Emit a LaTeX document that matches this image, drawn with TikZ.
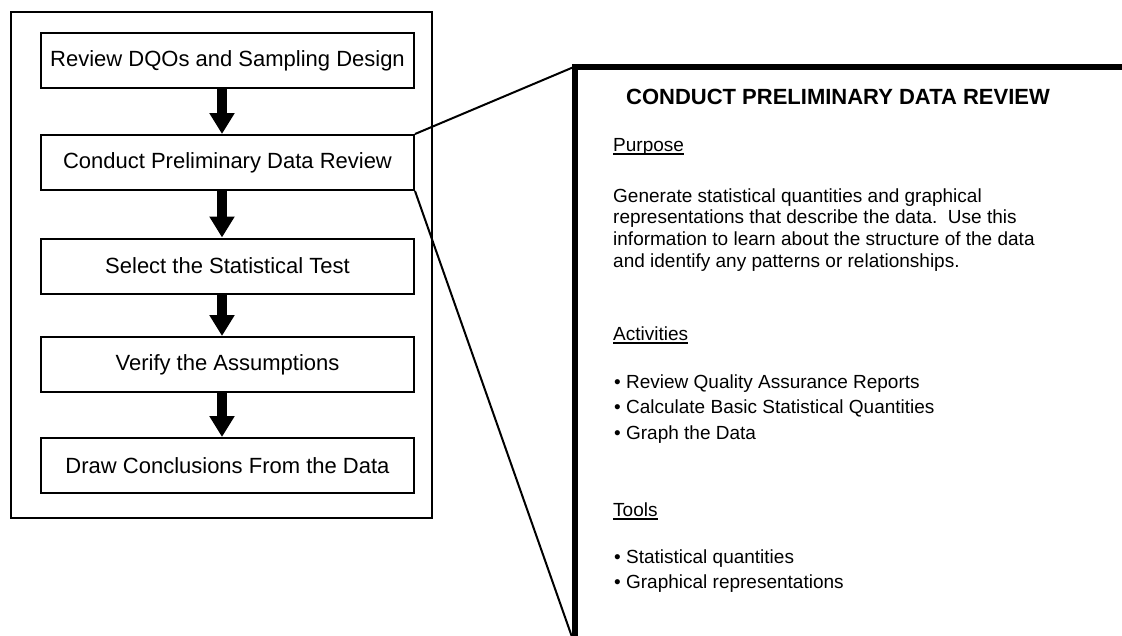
\documentclass[tikz,border=0pt]{standalone}
\usepackage{fontspec}
\setmainfont{Liberation Sans}
\usetikzlibrary{arrows.meta}

\tikzset{
  stepbox/.style={draw, line width=2pt, minimum width=373pt, minimum height=55pt, inner sep=0pt, font=\fontsize{22}{26}\selectfont},
  flowarrow/.style={line width=10.5pt, -{Triangle[width=24pt,length=21pt]}},
  paneltext/.style={anchor=base west, inner sep=0pt, font=\fontsize{19}{22}\selectfont},
  headrule/.style={line width=1.4pt},
}

\begin{document}
\begin{tikzpicture}[x=1pt,y=-1pt]
  \useasboundingbox (0,0) rectangle (1122,635);

  % steps of the process
  \draw[line width=2.6pt] (11,12) rectangle (432,518);
  \node[stepbox] (dqo)    at (227.5,60.5)  {Review DQOs and Sampling Design};
  \node[stepbox] (prelim) at (227.5,162.5) {Conduct Preliminary Data Review};
  \node[stepbox] (select) at (227.5,266)   {Select the Statistical Test};
  \node[stepbox] (verify) at (227.5,364.5) {Verify the Assumptions};
  \node[stepbox] (concl)  at (227.5,465.5) {Draw Conclusions From the Data};

  \draw[flowarrow] ([xshift=-5.5pt]dqo.south)    -- ([xshift=-5.5pt]prelim.north);
  \draw[flowarrow] ([xshift=-5.5pt]prelim.south) -- ([xshift=-5.5pt]select.north);
  \draw[flowarrow] ([xshift=-5.5pt]select.south) -- ([xshift=-5.5pt]verify.north);
  \draw[flowarrow] ([xshift=-5.5pt]verify.south) -- ([xshift=-5.5pt]concl.north);

  % zoomed panel
  \coordinate (corner) at (575,66.5);
  \coordinate (foot)   at (572,637);
  \draw[line width=6pt] (1126,66.5) -- (corner) -- (575,640);
  \draw[line width=2pt] (prelim.north east) -- (corner);
  \draw[line width=2pt] (prelim.south east) -- (foot);

  \node[anchor=base, inner sep=0pt, font=\fontsize{22}{26}\selectfont\bfseries] (title) at (838,104) {CONDUCT PRELIMINARY DATA REVIEW};

  \node[paneltext] (purpose) at (613,151) {Purpose};
  \draw[headrule] ([yshift=-3pt]purpose.base west) -- ([yshift=-3pt]purpose.base east);
  \node[paneltext] (gen1) at (613,202)   {Generate statistical quantities and graphical};
  \node[paneltext] (gen2) at (613,223.7) {representations that describe the data.\ \ Use this};
  \node[paneltext] (gen3) at (613,245.4) {information to learn about the structure of the data};
  \node[paneltext] (gen4) at (613,267.1) {and identify any patterns or relationships.};

  \node[paneltext] (activ) at (613,340) {Activities};
  \draw[headrule] ([yshift=-3pt]activ.base west) -- ([yshift=-3pt]activ.base east);
  \node[paneltext] (act1) at (614,388)   {• Review Quality Assurance Reports};
  \node[paneltext] (act2) at (614,413.5) {• Calculate Basic Statistical Quantities};
  \node[paneltext] (act3) at (614,439)   {• Graph the Data};

  \node[paneltext] (tools) at (613,516) {Tools};
  \draw[headrule] ([yshift=-3pt]tools.base west) -- ([yshift=-3pt]tools.base east);
  \node[paneltext] (tool1) at (614,563)   {• Statistical quantities};
  \node[paneltext] (tool2) at (614,588.5) {• Graphical representations};
\end{tikzpicture}
\end{document}
